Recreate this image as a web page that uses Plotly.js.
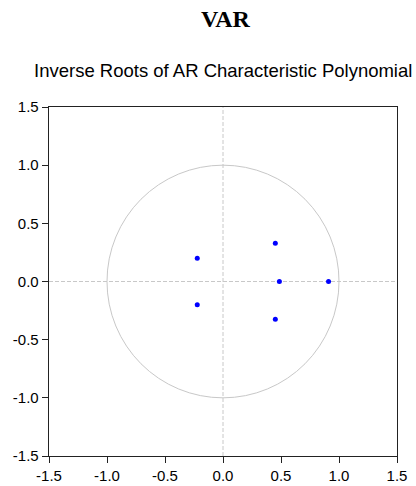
<!DOCTYPE html>
<html>
<head>
<meta charset="utf-8">
<script src="https://cdn.plot.ly/plotly-3.0.1.min.js"></script>
<style>html,body{margin:0;padding:0;background:#fff;}#chart{width:416px;height:486px;}</style>
</head>
<body>
<div id="chart"></div>
<script>
const rootsReal = [-0.222, -0.222, 0.451, 0.451, 0.486, 0.910];
const rootsImag = [0.199, -0.199, 0.328, -0.325, 0.0, 0.0];
const tickVals = [-1.5, -1.0, -0.5, 0.0, 0.5, 1.0, 1.5];
const tickText = ['-1.5', '-1.0', '-0.5', '0.0', '0.5', '1.0', '1.5'];
const mainTitle = 'VAR';
const subTitle = 'Inverse Roots of AR Characteristic Polynomial';

const traces = [{
  x: rootsReal, y: rootsImag, type: 'scatter', mode: 'markers',
  marker: {color: '#0000ff', size: 5}, hoverinfo: 'x+y', showlegend: false
}];

const axisCommon = {
  range: [-1.5, 1.5], tickvals: tickVals, ticktext: tickText,
  ticks: 'outside', ticklen: 6, tickwidth: 1, tickcolor: '#222',
  showline: true, mirror: true, linecolor: '#222', linewidth: 1.3,
  showgrid: false, zeroline: false,
  tickfont: {family: 'Liberation Sans, Arial, sans-serif', size: 15, color: '#000'}
};

const layout = {
  width: 416, height: 486,
  margin: {l: 48.5, r: 18.5, t: 107, b: 30},
  paper_bgcolor: '#fff', plot_bgcolor: '#fff',
  title: {text: '<b>' + mainTitle + '</b>', x: 0.507, xanchor: 'center', xref: 'paper',
          y: 1 - 19 / 486, yref: 'container', yanchor: 'middle',
          font: {family: 'Liberation Serif, Times New Roman, serif', size: 24, color: '#000'}},
  xaxis: Object.assign({}, axisCommon),
  yaxis: Object.assign({}, axisCommon),
  shapes: [
    {type: 'circle', xref: 'x', yref: 'y', x0: -1, x1: 1, y0: -1, y1: 1,
     line: {color: '#c8c8c8', width: 1}, layer: 'below'},
    {type: 'line', xref: 'x', yref: 'y', x0: 0, x1: 0, y0: -1.5, y1: 1.5,
     line: {color: '#c8c8c8', width: 1, dash: '4px,2px'}, layer: 'below'},
    {type: 'line', xref: 'x', yref: 'y', x0: -1.5, x1: 1.5, y0: 0, y1: 0,
     line: {color: '#c8c8c8', width: 1, dash: '4px,2px'}, layer: 'below'}
  ],
  annotations: [
    {text: subTitle, xref: 'paper', yref: 'paper', x: 0.5, y: 1, yshift: 37,
     xanchor: 'center', yanchor: 'middle', showarrow: false,
     font: {family: 'Liberation Sans, Arial, sans-serif', size: 18.5, color: '#000'}}
  ]
};

Plotly.newPlot('chart', traces, layout, {displayModeBar: false, staticPlot: true});
</script>
</body>
</html>
